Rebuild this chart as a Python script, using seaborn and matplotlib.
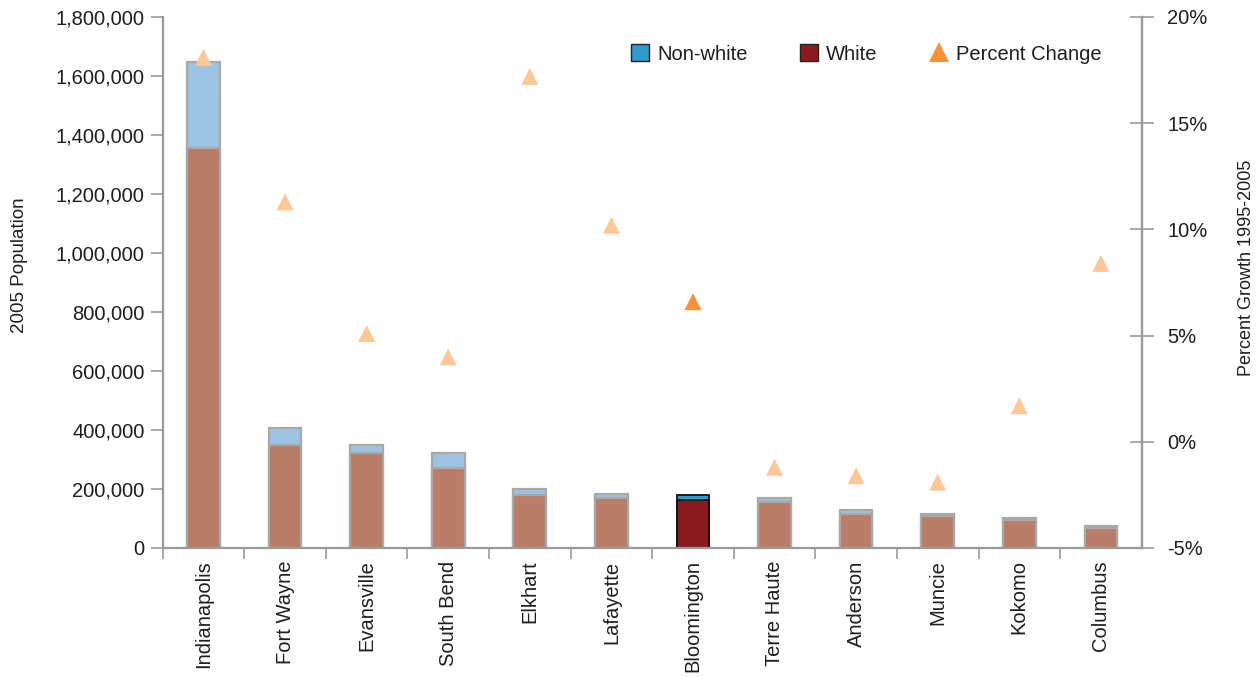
import matplotlib
matplotlib.use("Agg")
import matplotlib.pyplot as plt
from matplotlib.patches import Patch
from matplotlib.lines import Line2D
from matplotlib.ticker import FuncFormatter
import seaborn as sns

# 2005 population by race and 1995-2005 growth for Indiana metro areas
cities = ["Indianapolis", "Fort Wayne", "Evansville", "South Bend", "Elkhart",
          "Lafayette", "Bloomington", "Terre Haute", "Anderson", "Muncie",
          "Kokomo", "Columbus"]
white = [1356000, 349000, 321000, 272000, 178000, 169000, 163000, 156000,
         116000, 108000, 95000, 67000]
nonwhite = [291000, 58000, 28000, 49000, 21000, 14000, 15000, 15000,
            14000, 8000, 7000, 9000]
pct_change = [18.1, 11.3, 5.1, 4.0, 17.2, 10.2, 6.6, -1.2, -1.6, -1.9, 1.7, 8.4]
highlight = "Bloomington"

pop_ticks = list(range(0, 1800001, 200000))
pct_ticks = [-5, 0, 5, 10, 15, 20]

total = [w + n for w, n in zip(white, nonwhite)]

sns.set_theme(style="white")
plt.rcParams["font.family"] = ["Liberation Sans", "DejaVu Sans"]
TXT = "#1e1e1e"
AX = "#9a9a9a"
FS = 14.5
FS_LAB = 13.5

fig = plt.figure(figsize=(12.6, 6.77), dpi=100)
ax = fig.add_axes([0.1291, 0.1906, 0.7770, 0.7843])

nonwhite_col = {c: ("#2E9AD0" if c == highlight else "#9DC3E2") for c in cities}
white_col = {c: ("#8B1A1E" if c == highlight else "#B97D6A") for c in cities}

# full bar (non-white on top), then the white segment over it
sns.barplot(x=cities, y=total, hue=cities, palette=nonwhite_col, legend=False,
            width=0.4, ax=ax, saturation=1)
sns.barplot(x=cities, y=white, hue=cities, palette=white_col, legend=False,
            width=0.4, ax=ax, saturation=1)
hi_idx = cities.index(highlight)
for bar in ax.patches:
    idx = int(round(bar.get_x() + bar.get_width() / 2))
    if idx == hi_idx:
        bar.set_edgecolor("#111111")
        bar.set_linewidth(1.3)
    else:
        bar.set_edgecolor("#a8a8a8")
        bar.set_linewidth(1.6)

ax.set_xlim(-0.5, len(cities) - 0.5)
ax.set_ylim(0, 1800000)
ax.set_yticks(pop_ticks)
ax.yaxis.set_major_formatter(FuncFormatter(lambda v, p: f"{int(v):,}"))
ax.set_ylabel("2005 Population", fontsize=FS_LAB, color=TXT, labelpad=20)
ax.yaxis.label.set_y(0.533)
ax.set_xlabel("")
ax.tick_params(axis="y", direction="out", length=9, width=1.2, color=AX,
               labelsize=FS, labelcolor=TXT, left=True, pad=4)
ax.set_xticks(range(len(cities)))
ax.set_xticklabels(cities, rotation=90, fontsize=FS, color=TXT)
ax.tick_params(axis="x", length=0, pad=9)
# tick marks between categories
ax.set_xticks([i - 0.5 for i in range(len(cities))], minor=True)
ax.tick_params(axis="x", which="minor", direction="out", length=8, width=1.2,
               color=AX, bottom=True)

ax.spines["top"].set_visible(False)
for side in ["left", "bottom", "right"]:
    ax.spines[side].set_color(AX)
    ax.spines[side].set_linewidth(1.6)

ax2 = ax.twinx()
pt_col = {True: "#F7923A", False: "#FDC897"}
flags = [c == highlight for c in cities]
sns.scatterplot(x=list(range(len(cities))), y=pct_change, hue=flags,
                palette=pt_col, marker="^", s=150, linewidth=0, legend=False,
                ax=ax2, zorder=5)
ax2.set_ylim(-5, 20)
ax2.set_yticks(pct_ticks)
ax2.yaxis.set_major_formatter(FuncFormatter(lambda v, p: f"{v:.0f}%"))
ax2.tick_params(axis="y", direction="inout", length=17, width=1.2, color=AX,
                labelsize=FS, labelcolor=TXT, right=True, pad=10)
ax2.set_ylabel("Percent Growth 1995-2005", fontsize=13, color=TXT,
               labelpad=22)
ax2.yaxis.label.set_y(0.527)
for side in ["top", "left", "bottom"]:
    ax2.spines[side].set_visible(False)
ax2.spines["right"].set_color(AX)
ax2.spines["right"].set_linewidth(1.6)

handles = [
    Patch(facecolor="#2E9AD0", edgecolor="#222222", linewidth=1.0, label="Non-white"),
    Patch(facecolor="#8B1A1E", edgecolor="#222222", linewidth=1.0, label="White"),
    Line2D([], [], marker="^", ls="", color="#F7923A", markersize=14,
           markeredgewidth=0, label="Percent Change"),
]
leg = ax2.legend(handles=handles, ncol=3, frameon=False, fontsize=FS,
                 loc="center left", bbox_to_anchor=(631 / 1260, 1 - 54 / 677),
                 bbox_transform=fig.transFigure, handlelength=0.9,
                 handleheight=0.85, handletextpad=0.4, columnspacing=2.6,
                 borderaxespad=0, borderpad=0)
for t in leg.get_texts():
    t.set_color(TXT)

fig.savefig("out.png", dpi=100, facecolor="white")
